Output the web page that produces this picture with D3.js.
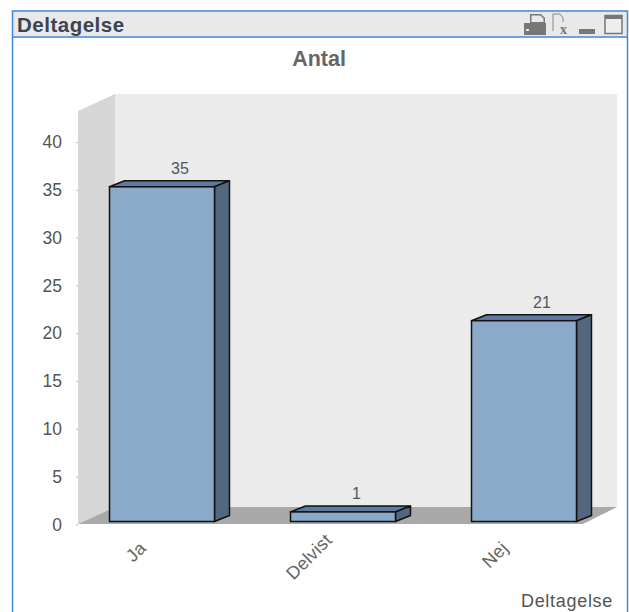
<!DOCTYPE html>
<html lang="en">
<head>
<meta charset="UTF-8">
<title>Deltagelse</title>
<script src="https://d3js.org/d3.v7.min.js"></script>
<style>
  html, body { margin: 0; padding: 0; background: #fff; }
  svg { display: block; font-family: "Liberation Sans", Arial, sans-serif; }
</style>
</head>
<body>
<svg id="chart" width="629" height="612"></svg>
<script>
const categories = ["Ja", "Delvist", "Nej"];
const antal = [35, 1, 21];
const yTicks = [0, 5, 10, 15, 20, 25, 30, 35, 40];
const panelTitle = "Deltagelse";
const chartTitle = "Antal";
const xTitle = "Deltagelse";

const svg = d3.select("#chart");

const x = d3.scaleBand().domain(categories).range([71.5, 614.5])
  .paddingInner(0.42).paddingOuter(0.21);
const y = d3.scaleLinear().domain([0, 40]).range([524, 141.5]);

// 3d offsets
const wallDx = 37, wallDy = 17;
const barDx = 15, barDy = 6;
const barLift = 2.5;

// caption bar and frame
svg.append("rect").attr("x", 12.5).attr("y", 11).attr("width", 615).attr("height", 26).attr("fill", "#e9e9e9");
svg.append("path").attr("d", "M12.5,612V11H627.5V612").attr("fill", "none").attr("stroke", "#3e8ad6").attr("stroke-width", 1.5);
svg.append("line").attr("x1", 12).attr("x2", 628).attr("y1", 37).attr("y2", 37).attr("stroke", "#3e8ad6").attr("stroke-width", 1.5);
svg.append("text").attr("x", 17).attr("y", 32).attr("font-size", 20.5).attr("letter-spacing", 0.5)
  .attr("font-weight", 700).attr("fill", "#3d4352").text(panelTitle);

// caption icons
const icons = svg.append("g").attr("fill", "#777");
icons.append("path").attr("d", "M530,14H541L545,18V23H530Z M531.5,15.5V22H543.5V18.5L540.5,15.5Z").attr("fill-rule", "evenodd");
icons.append("path").attr("d", "M524,23H546V35H524Z M526,29V31H529V29Z").attr("fill-rule", "evenodd");
icons.append("path").attr("d", "M553,31V14H560L563,18V22").attr("fill", "none").attr("stroke", "#888").attr("stroke-width", 1);
icons.append("text").attr("x", 560).attr("y", 34).attr("font-size", 14).attr("font-weight", 700)
  .attr("font-family", "Liberation Serif").attr("fill", "#777").text("x");
icons.append("rect").attr("x", 579).attr("y", 29).attr("width", 16).attr("height", 5);
icons.append("rect").attr("x", 605).attr("y", 15.5).attr("width", 17).attr("height", 18).attr("fill", "#eee").attr("stroke", "#777").attr("stroke-width", 1.5);
icons.append("rect").attr("x", 605).attr("y", 15).attr("width", 17).attr("height", 4);

svg.append("text").attr("x", 319).attr("y", 66).attr("text-anchor", "middle")
  .attr("font-size", 21.5).attr("font-weight", 700).attr("fill", "#666").text(chartTitle);

// walls and floor
const plotL = 78, plotR = 580, plotT = 111, plotB = y(0);
svg.append("rect").attr("x", plotL + wallDx).attr("y", plotT - wallDy)
  .attr("width", plotR - plotL).attr("height", plotB - plotT).attr("fill", "#ebebeb");
svg.append("path")
  .attr("d", `M${plotL},${plotT}L${plotL + wallDx},${plotT - wallDy}V${plotB - wallDy}L${plotL},${plotB}Z`)
  .attr("fill", "#d6d6d6");
svg.append("path")
  .attr("d", `M${plotL},${plotB}L${plotL + wallDx},${plotB - wallDy}H${plotR + wallDx}L${plotR + 3},${plotB}Z`)
  .attr("fill", "#a9a9a9");

// y axis
const yAxis = d3.axisLeft(y).tickValues(yTicks).tickSize(2).tickPadding(14);
const yG = svg.append("g").attr("transform", `translate(${plotL},0.5)`).call(yAxis);
yG.select(".domain").remove();
yG.selectAll("line").attr("stroke", "#bbb");
yG.selectAll("text").attr("font-size", 17.5).attr("fill", "#555").attr("font-family", "Liberation Sans");

// bars
const bars = svg.append("g").selectAll("g").data(antal).join("g");
const barW = x.bandwidth();
const barX = (d, i) => x(categories[i]);
const barTop = d => y(d) - barLift;
const barBot = y(0) - barLift;

bars.append("path")
  .attr("d", (d, i) => {
    const l = barX(d, i), t = barTop(d);
    return `M${l},${t}L${l + barDx},${t - barDy}H${l + barW + barDx}L${l + barW},${t}Z`;
  })
  .attr("fill", "#5e7a9f").attr("stroke", "#111").attr("stroke-width", 1.5).attr("stroke-linejoin", "round");
bars.append("path")
  .attr("d", (d, i) => {
    const r = barX(d, i) + barW, t = barTop(d);
    return `M${r},${t}L${r + barDx},${t - barDy}V${barBot - barDy}L${r},${barBot}Z`;
  })
  .attr("fill", "#53677f").attr("stroke", "#111").attr("stroke-width", 1.5).attr("stroke-linejoin", "round");
bars.append("rect")
  .attr("x", barX).attr("y", barTop)
  .attr("width", barW).attr("height", d => barBot - barTop(d))
  .attr("fill", "#8ba9c9").attr("stroke", "#111").attr("stroke-width", 1.5);
bars.append("text")
  .attr("x", (d, i) => barX(d, i) + barW / 2 + 9)
  .attr("y", d => barTop(d) - 13)
  .attr("font-size", 16).attr("fill", "#555")
  .text(d => d);

// category labels, the long one sits closer to the axis in the original
svg.append("g").selectAll("text").data(categories).join("text")
  .attr("transform", d => {
    const long = d.length > 3;
    return `translate(${x(d) + barW / 2 - (long ? 20 : 25)},${long ? 531 : 539}) rotate(-45)`;
  })
  .attr("text-anchor", "end").attr("dy", "0.8em").attr("font-size", 18).attr("letter-spacing", 0.3).attr("fill", "#666")
  .text(d => d);

svg.append("text").attr("x", 613).attr("y", 607).attr("text-anchor", "end")
  .attr("font-size", 18).attr("letter-spacing", 0.7).attr("fill", "#555").text(xTitle);
</script>
</body>
</html>
